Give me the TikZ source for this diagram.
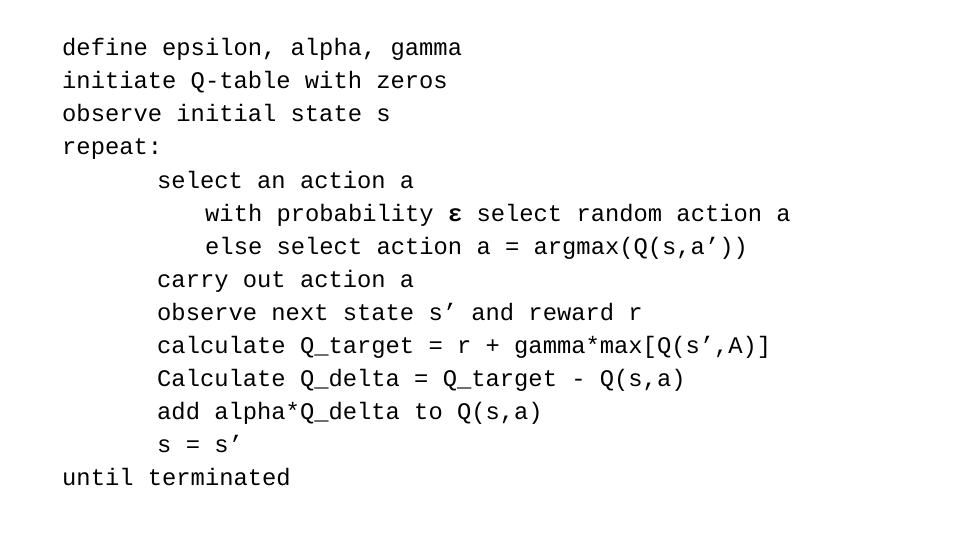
\documentclass[tikz,border=0pt]{standalone}
\usepackage{fontspec}
\setmainfont{Liberation Mono}
\begin{document}
\begin{tikzpicture}[x=1pt,y=-1pt,
  ln/.style={anchor=base west,inner sep=0pt,font=\fontsize{23.8}{26}\selectfont}]
\useasboundingbox[fill=white] (0,0) rectangle (960,540);
\node[ln] (l1) at (62,56) {define epsilon, alpha, gamma};
\node[ln] (l2) at (62,89) {initiate Q-table with zeros};
\node[ln] (l3) at (62,122) {observe initial state s};
\node[ln] (l4) at (62,155) {repeat:};
\node[ln] (l5) at (157,188) {select an action a};
\node[ln] (l6) at (205,221) {with probability \textbf{ε} select random action a};
\node[ln] (l7) at (205,254) {else select action a = argmax(Q(s,a’))};
\node[ln] (l8) at (157,287) {carry out action a};
\node[ln] (l9) at (157,320) {observe next state s’ and reward r};
\node[ln] (l10) at (157,353) {calculate Q\_target = r + gamma*max[Q(s’,A)]};
\node[ln] (l11) at (157,386) {Calculate Q\_delta = Q\_target - Q(s,a)};
\node[ln] (l12) at (157,419) {add alpha*Q\_delta to Q(s,a)};
\node[ln] (l13) at (157,452) {s = s’};
\node[ln] (l14) at (62,485) {until terminated};
\end{tikzpicture}
\end{document}
